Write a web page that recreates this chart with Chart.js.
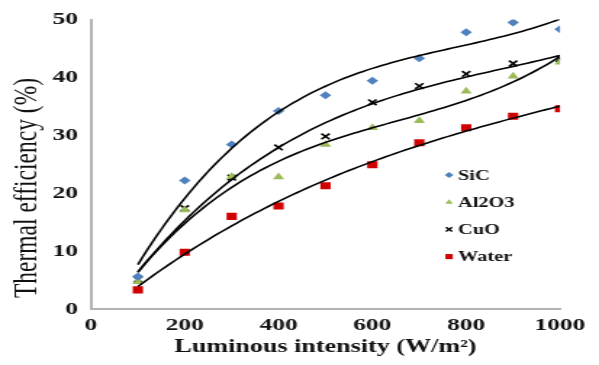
<!DOCTYPE html>
<html>
<head>
<meta charset="utf-8">
<script src="https://cdn.jsdelivr.net/npm/chart.js@4.4.0/dist/chart.umd.min.js"></script>
<style>
  html, body { margin: 0; padding: 0; background: #fff; overflow: hidden; }
  /* the figure is drawn narrow and widened, like the original export */
  #chart { display: block; transform: scaleX(1.4504); transform-origin: 0 0; }
</style>
</head>
<body>
<canvas id="chart" width="413" height="365"></canvas>
<script>
var intensity = [100, 200, 300, 400, 500, 600, 700, 800, 900, 1000];
var sic   = [5.6, 22.2, 28.4, 34.2, 36.9, 39.4, 43.3, 47.8, 49.5, 48.3];
var al2o3 = [4.7, 17.1, 22.9, 22.8, 28.4, 31.3, 32.5, 37.6, 40.2, 42.6];
var cuo   = [5.1, 17.4, 22.7, 27.9, 29.8, 35.7, 38.5, 40.6, 42.4, 43.2];
var water = [3.3, 9.8, 16.0, 17.8, 21.3, 24.9, 28.7, 31.3, 33.3, 34.6];

var xTicks = [0, 200, 400, 600, 800, 1000];
var yTicks = [0, 10, 20, 30, 40, 50];

var serif = "'Liberation Serif', 'Times New Roman', serif";
var ink = '#111';

// least squares polynomial (x scaled to kW/m2 to keep the matrix sane)
function polyFit(xs, ys, order) {
    var n = order + 1;
    var A = [], b = [];
    for (var i = 0; i < n; i++) { A.push(new Array(n).fill(0)); b.push(0); }
    xs.forEach(function (x, k) {
        var t = x / 1000;
        for (var i = 0; i < n; i++) {
            b[i] += ys[k] * Math.pow(t, i);
            for (var j = 0; j < n; j++) A[i][j] += Math.pow(t, i + j);
        }
    });
    for (var c = 0; c < n; c++) {
        var p = c;
        for (var r = c + 1; r < n; r++) if (Math.abs(A[r][c]) > Math.abs(A[p][c])) p = r;
        var tmp = A[c]; A[c] = A[p]; A[p] = tmp;
        var tb = b[c]; b[c] = b[p]; b[p] = tb;
        for (var r2 = c + 1; r2 < n; r2++) {
            var f = A[r2][c] / A[c][c];
            for (var j2 = c; j2 < n; j2++) A[r2][j2] -= f * A[c][j2];
            b[r2] -= f * b[c];
        }
    }
    var coef = new Array(n).fill(0);
    for (var i2 = n - 1; i2 >= 0; i2--) {
        var s = b[i2];
        for (var j3 = i2 + 1; j3 < n; j3++) s -= A[i2][j3] * coef[j3];
        coef[i2] = s / A[i2][i2];
    }
    return coef;
}

function trendPoints(ys) {
    var coef = polyFit(intensity, ys, 3);
    var pts = [];
    for (var x = intensity[0]; x <= intensity[intensity.length - 1]; x += 10) {
        var t = x / 1000, y = 0;
        for (var i = 0; i < coef.length; i++) y += coef[i] * Math.pow(t, i);
        pts.push({ x: x, y: y });
    }
    return pts;
}

function toPoints(ys) {
    return intensity.map(function (x, i) { return { x: x, y: ys[i] }; });
}

function markers(label, ys, color, style, radius) {
    return {
        label: label,
        data: toPoints(ys),
        showLine: false,
        pointStyle: style,
        pointRadius: radius,
        pointHoverRadius: radius,
        pointBackgroundColor: color,
        pointBorderColor: color,
        pointBorderWidth: style === 'crossRot' ? 1.6 : 0,
        order: 1
    };
}

function trend(ys) {
    return {
        label: '',
        data: trendPoints(ys),
        showLine: true,
        borderColor: '#000',
        borderWidth: 1.6,
        pointRadius: 0,
        tension: 0,
        order: 0
    };
}

var series = [
    markers('SiC', sic, '#4f81bd', 'rectRot', 4),
    markers('Al2O3', al2o3, '#9bbb59', 'triangle', 4.5),
    markers('CuO', cuo, '#000000', 'crossRot', 4),
    markers('Water', water, '#d00000', 'rect', 5)
];

// y axis title sits a little below the middle of the axis
var yTitlePlugin = {
    id: 'yTitle',
    afterDraw: function (chart) {
        var ctx = chart.ctx;
        ctx.save();
        ctx.translate(19, 188);
        ctx.rotate(-Math.PI / 2);
        ctx.font = '23.5px ' + serif;
        ctx.fillStyle = ink;
        ctx.textAlign = 'center';
        ctx.textBaseline = 'middle';
        ctx.fillText('Thermal efficiency (%)', 0, 0);
        ctx.restore();
    }
};

// legend inside the plot, lower right
var legendPlugin = {
    id: 'innerLegend',
    afterDraw: function (chart) {
        var ctx = chart.ctx;
        ctx.save();
        ctx.font = 'bold 14px ' + serif;
        ctx.textBaseline = 'middle';
        ctx.textAlign = 'left';
        series.forEach(function (ds, i) {
            var y = 175 + i * 27.2;
            ctx.fillStyle = ds.pointBackgroundColor;
            ctx.strokeStyle = ds.pointBorderColor;
            ctx.lineWidth = 1.4;
            Chart.helpers.drawPoint(ctx, {
                pointStyle: ds.pointStyle,
                radius: ds.pointStyle === 'rect' ? 3.6 : 3,
                rotation: 0,
                borderWidth: ds.pointStyle === 'crossRot' ? 1.4 : 0
            }, 309.6, y);
            ctx.fillStyle = ink;
            ctx.fillText(ds.label, 315.8, y + 1);
        });
        ctx.restore();
    }
};

var ctx = document.getElementById('chart').getContext('2d');
var myChart = new Chart(ctx, {
    type: 'scatter',
    data: {
        datasets: series.concat([trend(sic), trend(al2o3), trend(cuo), trend(water)])
    },
    options: {
        responsive: false,
        animation: false,
        devicePixelRatio: 1,
        layout: { padding: { left: 0, right: 26.9, top: 19, bottom: 0 } },
        plugins: {
            legend: { display: false },
            tooltip: { enabled: false }
        },
        scales: {
            x: {
                type: 'linear',
                min: 0,
                max: 1000,
                afterBuildTicks: function (s) { s.ticks = xTicks.map(function (v) { return { value: v }; }); },
                afterFit: function (s) { s.height = 56; },
                grid: { display: false, drawTicks: false },
                border: { display: true, color: '#b3b3b3', width: 2 },
                ticks: {
                    padding: 6,
                    maxRotation: 0,
                    color: ink,
                    font: { family: serif, size: 17.5, weight: 'bold' },
                    callback: function (v) { return String(v); }
                },
                title: {
                    display: true,
                    text: 'Luminous intensity (W/m²)',
                    color: ink,
                    font: { family: serif, size: 18, weight: 'bold' },
                    padding: { top: 0, bottom: 7 }
                }
            },
            y: {
                type: 'linear',
                min: 0,
                max: 50,
                afterBuildTicks: function (s) { s.ticks = yTicks.map(function (v) { return { value: v }; }); },
                afterFit: function (s) { s.width = 62.7; },
                grid: { display: false, drawTicks: false },
                border: { display: true, color: '#b3b3b3', width: 2 },
                ticks: {
                    padding: 9,
                    color: ink,
                    font: { family: serif, size: 17.5, weight: 'bold' },
                    callback: function (v) { return String(v); }
                }
            }
        }
    },
    plugins: [yTitlePlugin, legendPlugin]
});
</script>
</body>
</html>
